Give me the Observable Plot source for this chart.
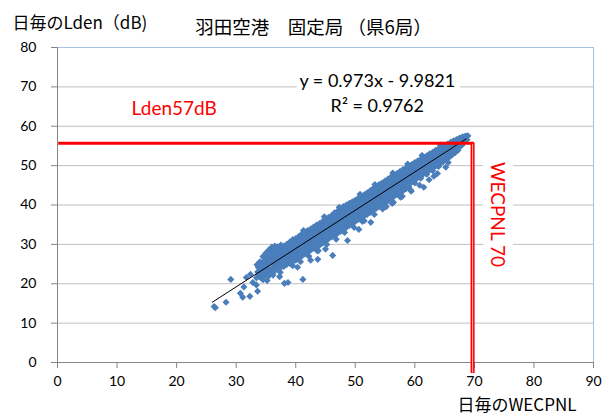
<!DOCTYPE html>
<html>
<head>
<meta charset="utf-8">
<script src="https://cdn.jsdelivr.net/npm/d3@7"></script>
<script src="https://cdn.jsdelivr.net/npm/@observablehq/plot@0.6"></script>
<style>
  html, body { margin: 0; padding: 0; background: #ffffff; }
</style>
</head>
<body>
<div id="chart"></div>
<script>
// ---- Data ----
const titleText = "羽田空港　固定局 （県6局）";
const yTitle = "日毎のLden（dB)";
const xTitle = "日毎のWECPNL";
const xTicks = [0, 10, 20, 30, 40, 50, 60, 70, 80, 90];
const yTicks = [0, 10, 20, 30, 40, 50, 60, 70, 80];

// regression shown on the chart
const slope = 0.973;
const intercept = -9.9821;
const trendRange = [26.0, 68.6];

// reference lines
const refLden = 55.7;      // "Lden57dB" horizontal line
const refWecpnl = 69.7;    // "WECPNL 70" vertical line

// daily points [WECPNL, Lden] – dense band
const bandPoints = [
  [33.5,24.8],[33.6,23.0],[33.4,21.5],
  [34.0,25.6],[34.1,23.4],[33.9,21.8],
  [34.5,26.9],[34.6,24.9],[34.4,22.9],[34.5,21.0],
  [35.0,27.8],[35.1,26.0],[34.9,24.2],[35.0,22.3],
  [35.5,28.6],[35.6,26.4],[35.4,24.0],[35.5,22.0],
  [36.0,29.3],[36.1,27.2],[35.9,25.3],[36.0,23.0],
  [36.5,29.6],[36.6,27.6],[36.4,25.4],[36.5,23.3],
  [37.0,29.4],[37.1,27.9],[36.9,26.0],[37.0,24.0],
  [37.5,29.8],[37.6,28.0],[37.4,26.3],[37.5,24.2],
  [38.0,29.6],[38.1,27.8],[37.9,25.6],[38.0,24.4],
  [38.5,30.0],[38.6,28.2],[38.4,26.3],[38.5,24.9],
  [39.0,30.6],[39.1,28.6],[38.9,26.6],[39.0,25.3],
  [39.5,31.2],[39.6,29.2],[39.4,27.1],[39.5,25.6],
  [40.0,31.5],[40.1,29.8],[39.9,27.6],[40.0,26.0],
  [40.5,32.0],[40.6,30.1],[40.4,28.2],[40.5,26.6],
  [41.0,32.6],[41.1,30.6],[40.9,28.7],[41.0,27.0],
  [41.5,33.2],[41.6,31.1],[41.4,29.0],[41.5,27.6],
  [42.0,33.5],[42.1,31.5],[41.9,29.5],[42.0,28.0],
  [42.5,33.9],[42.6,32.0],[42.4,30.1],[42.5,28.5],
  [43.0,34.4],[43.1,32.4],[42.9,30.5],[43.0,29.0],
  [43.5,34.9],[43.6,33.0],[43.4,31.0],[43.5,29.4],
  [44.0,35.3],[44.1,33.4],[43.9,31.4],[44.0,29.8],
  [44.5,35.8],[44.6,33.9],[44.4,31.9],[44.5,30.3],
  [45.0,36.4],[45.1,34.4],[44.9,32.4],[45.0,30.8],
  [45.5,36.8],[45.6,34.8],[45.4,32.9],[45.5,31.4],
  [46.0,37.3],[46.1,35.4],[45.9,33.4],[46.0,31.9],
  [46.5,38.0],[46.6,35.9],[46.4,33.8],[46.5,32.3],
  [47.0,38.4],[47.1,36.3],[46.9,34.3],[47.0,32.8],
  [47.5,38.9],[47.6,36.8],[47.4,34.8],[47.5,33.3],
  [48.0,39.6],[48.1,37.4],[47.9,35.3],[48.0,33.8],
  [48.5,40.0],[48.6,37.8],[48.4,35.8],[48.5,34.3],
  [49.0,40.4],[49.1,38.4],[48.9,36.3],[49.0,34.8],
  [49.5,40.8],[49.6,38.8],[49.4,36.8],[49.5,35.3],
  [50.0,41.2],[50.1,39.3],[49.9,37.3],[50.0,35.8],
  [50.5,41.7],[50.6,39.8],[50.4,37.8],[50.5,36.3],
  [51.0,42.1],[51.1,40.2],[50.9,38.2],[51.0,36.7],
  [51.5,42.6],[51.6,40.7],[51.4,38.7],[51.5,37.2],
  [52.0,43.1],[52.1,41.2],[51.9,39.2],[52.0,37.6],
  [52.5,43.6],[52.6,41.7],[52.4,39.7],[52.5,38.1],
  [53.0,44.2],[53.1,42.2],[52.9,40.2],[53.0,38.6],
  [53.5,44.7],[53.6,42.7],[53.4,40.7],[53.5,39.1],
  [54.0,45.2],[54.1,43.2],[53.9,41.2],[54.0,39.6],
  [54.5,45.6],[54.6,43.6],[54.4,41.6],[54.5,40.1],
  [55.0,46.1],[55.1,44.1],[54.9,42.1],[55.0,40.6],
  [55.5,46.6],[55.6,44.6],[55.4,42.6],[55.5,41.1],
  [56.0,47.1],[56.1,45.1],[55.9,43.1],[56.0,41.6],
  [56.5,47.5],[56.6,45.6],[56.4,43.6],[56.5,42.2],
  [57.0,48.0],[57.1,46.1],[56.9,44.1],[57.0,42.7],
  [57.5,48.5],[57.6,46.6],[57.4,44.6],[57.5,43.1],
  [58.0,49.0],[58.1,47.0],[57.9,45.1],[58.0,43.6],
  [58.5,49.4],[58.6,47.5],[58.4,45.5],[58.5,44.1],
  [59.0,49.8],[59.1,48.0],[58.9,46.0],[59.0,44.6],
  [59.5,50.3],[59.6,48.4],[59.4,46.5],
  [60.0,50.8],[60.1,48.9],[59.9,47.0],[60.0,45.6],
  [60.5,51.2],[60.6,49.4],[60.4,47.5],
  [61.0,51.6],[61.1,49.9],[60.9,48.0],[61.0,46.8],
  [61.5,52.1],[61.6,50.3],[61.4,48.5],
  [62.0,52.5],[62.1,50.7],[61.9,49.0],[62.0,47.8],
  [62.5,53.0],[62.6,51.2],[62.4,49.4],
  [63.0,53.4],[63.1,51.7],[62.9,49.9],[63.0,48.7],
  [63.5,53.9],[63.6,52.2],[63.4,50.4],
  [64.0,54.3],[64.1,52.6],[63.9,50.9],[64.0,49.8],
  [64.5,54.7],[64.6,53.1],[64.4,51.4],
  [65.0,55.1],[65.1,53.5],[64.9,51.9],
  [65.5,55.5],[65.6,54.0],[65.4,52.4],
  [66.0,55.9],[66.1,54.4],[65.9,52.9],
  [66.5,56.3],[66.6,54.9],[66.4,53.4],
  [67.0,56.6],[67.1,55.3],[66.9,54.0],
  [67.5,57.0],[67.6,55.8],[67.4,54.6],
  [68.0,57.3],[68.1,56.3],[67.9,55.2],
  [68.5,57.5],[68.6,56.6],
  [68.9,57.6]
];

// more daily points in the band, between the rows above
const bandPoints2 = [
  [33.75,24.1],[33.75,22.3],
  [34.25,24.6],[34.25,22.4],
  [34.75,25.9],[34.75,23.9],[34.75,22.0],
  [35.25,27.0],[35.25,25.1],[35.25,23.1],
  [35.75,28.0],[35.75,25.8],[35.75,23.5],
  [36.25,28.4],[36.25,26.3],[36.25,24.2],
  [36.75,28.6],[36.75,26.7],[36.75,24.6],
  [37.25,28.9],[37.25,27.0],[37.25,25.1],
  [37.75,28.9],[37.75,27.1],[37.75,25.2],
  [38.25,28.9],[38.25,27.0],[38.25,25.4],
  [38.75,29.3],[38.75,27.4],[38.75,25.7],
  [39.25,29.9],[39.25,27.8],[39.25,26.1],
  [39.75,30.3],[39.75,28.3],[39.75,26.5],
  [40.25,30.8],[40.25,28.8],[40.25,27.0],
  [40.75,31.3],[40.75,29.3],[40.75,27.5],
  [41.25,31.7],[41.25,29.7],[41.25,27.9],
  [41.75,32.2],[41.75,30.2],[41.75,28.4],
  [42.25,32.7],[42.25,30.7],[42.25,28.9],
  [42.75,33.2],[42.75,31.2],[42.75,29.4],
  [43.25,33.7],[43.25,31.7],[43.25,29.9],
  [43.75,34.2],[43.75,32.2],[43.75,30.4],
  [44.25,34.7],[44.25,32.7],[44.25,30.9],
  [44.75,35.2],[44.75,33.2],[44.75,31.4],
  [45.25,35.6],[45.25,33.6],[45.25,31.8],
  [45.75,36.1],[45.75,34.1],[45.75,32.3],
  [46.25,36.6],[46.25,34.6],[46.25,32.8],
  [46.75,37.1],[46.75,35.1],[46.75,33.3],
  [47.25,37.6],[47.25,35.6],[47.25,33.8],
  [47.75,38.1],[47.75,36.1],[47.75,34.3],
  [48.25,38.6],[48.25,36.6],[48.25,34.8],
  [48.75,39.1],[48.75,37.1],[48.75,35.3],
  [49.25,39.5],[49.25,37.5],[49.25,35.7],
  [49.75,40.0],[49.75,38.0],[49.75,36.2],
  [50.25,40.5],[50.25,38.5],[50.25,36.7],
  [50.75,41.0],[50.75,39.0],[50.75,37.2],
  [51.25,41.5],[51.25,39.5],[51.25,37.7],
  [51.75,42.0],[51.75,40.0],[51.75,38.2],
  [52.25,42.5],[52.25,40.5],[52.25,38.7],
  [52.75,42.9],[52.75,40.9],[52.75,39.1],
  [53.25,43.4],[53.25,41.4],[53.25,39.6],
  [53.75,43.9],[53.75,41.9],[53.75,40.1],
  [54.25,44.4],[54.25,42.4],[54.25,40.6],
  [54.75,44.9],[54.75,42.9],[54.75,41.1],
  [55.25,45.4],[55.25,43.4],[55.25,41.6],
  [55.75,45.9],[55.75,43.9],[55.75,42.1],
  [56.25,46.3],[56.25,44.3],[56.25,42.5],
  [56.75,46.8],[56.75,44.8],[56.75,43.0],
  [57.25,47.3],[57.25,45.3],[57.25,43.5],
  [57.75,47.8],[57.75,45.8],[57.75,44.0],
  [58.25,48.3],[58.25,46.3],[58.25,44.5],
  [58.75,48.8],[58.75,46.8],[58.75,45.0],
  [59.25,49.3],[59.25,47.3],[59.25,45.5],
  [59.75,49.8],[59.75,47.8],[59.75,46.0],
  [60.25,50.1],[60.25,48.1],[60.25,46.6],
  [60.75,50.6],[60.75,48.6],[60.75,47.1],
  [61.25,51.1],[61.25,49.1],[61.25,47.6],
  [61.75,51.6],[61.75,49.6],[61.75,48.1],
  [62.25,52.1],[62.25,50.1],[62.25,48.6],
  [62.75,52.6],[62.75,50.6],[62.75,49.1],
  [63.25,53.1],[63.25,51.1],[63.25,49.6],
  [63.75,53.5],[63.75,51.5],[63.75,50.0],
  [64.25,54.0],[64.25,52.0],[64.25,50.5],
  [64.75,54.5],[64.75,52.5],[64.75,51.0],
  [65.25,54.9],[65.25,53.0],[65.25,51.6],
  [65.75,55.4],[65.75,53.5],[65.75,52.1],
  [66.25,55.8],[66.25,54.0],[66.25,52.7],
  [66.75,56.2],[66.75,54.5],[66.75,53.3],
  [67.25,56.5],[67.25,55.0],[67.25,53.9],
  [67.75,56.9],[67.75,55.5],
  [68.25,57.2],[68.25,56.0],
  [68.75,57.4],[68.75,56.6]
];

// ragged edges of the band
const lowerEdgePoints = [
  [39.5,24.6],[40.8,25.6],[42.2,27.0],[43.8,28.4],[45.2,30.0],[46.8,31.3],
  [48.2,33.0],[49.8,34.3],[51.2,35.8],[53.2,37.6],[54.6,39.0],[56.2,40.4],
  [57.6,42.0],[59.4,43.5],[60.8,45.0],[62.4,46.4],[63.8,48.0],[65.2,49.6]
];
const upperEdgePoints = [
  [41.3,33.5],[44.8,37.0],[47.3,39.4],[50.8,42.7],[53.3,45.2],[56.3,48.1],
  [58.8,50.4],[61.2,52.6],[64.3,55.2]
];

// scattered points away from the band
const outlierPoints = [
  [26.3,14.2],[26.5,13.9],[28.3,15.3],[29.1,21.1],[30.7,17.6],[31.1,16.6],
  [32.3,16.8],[33.6,18.1],[31.7,21.6],[32.8,20.3],[31.3,19.2],[32.4,22.4],
  [33.4,19.7],[38.7,20.3],[38.1,20.1],[41.2,21.1],[46.2,27.2],[43.7,26.2],
  [48.7,31.0],[52.6,35.6],[61.5,44.5],[59.3,43.8],[56.4,40.7],[54.8,40.3],
  [51.5,36.0],[36.2,22.2],[37.3,21.8],[35.2,20.8],[40.3,24.2],[42.5,26.0],
  [45.0,28.8],[50.6,33.8],[55.2,39.6],[57.9,42.2],[63.2,47.3],[65.6,50.8],
  [37.4,22.9],[39.1,25.1],[43.6,28.4],[34.1,21.6]
];

const eqText = "y = 0.973x - 9.9821";
const r2Text = "R² = 0.9762";
const ldenLabel = "Lden57dB";
const wecpnlLabel = "WECPNL 70";

// ---- Chart ----
const latin = "Lato, 'Open Sans', 'Noto Sans CJK JP', sans-serif";
const cjk = "'Noto Sans CJK JP', 'Noto Sans', sans-serif";
const gridColor = "#c0c0c0";
const axisColor = "#868686";
const borderColor = "#a9c1e0";
const dotColor = "#4a7ebb";

const allPoints = bandPoints.concat(bandPoints2, lowerEdgePoints, upperEdgePoints, outlierPoints);

const chart = Plot.plot({
  width: 610,
  height: 419,
  marginLeft: 57,
  marginRight: 17,
  marginTop: 47,
  marginBottom: 57,
  style: {fontFamily: latin, fontSize: "14px", color: "#000", background: "#fff", overflow: "visible"},
  x: {domain: [0, 90]},
  y: {domain: [0, 80]},
  marks: [
    Plot.gridY(yTicks.filter(v => v > 0 && v < 80), {stroke: gridColor, strokeOpacity: 1}),
    Plot.ruleY([80], {stroke: borderColor}),
    Plot.ruleX([90], {stroke: borderColor}),
    Plot.ruleX([0], {stroke: axisColor}),
    Plot.ruleY([0], {stroke: axisColor}),
    Plot.axisX(xTicks, {tickSize: 6, tickPadding: 8, stroke: axisColor, fill: "#000", label: null, fontSize: 14}),
    Plot.axisY(yTicks, {tickSize: 6, tickPadding: 15, stroke: axisColor, fill: "#000", label: null, fontSize: 14}),
    Plot.dot(allPoints, {x: d => d[0], y: d => d[1], symbol: "diamond2", r: 3.2, fill: dotColor, stroke: "none"}),
    Plot.line(trendRange, {x: d => d, y: d => slope * d + intercept, stroke: "#000", strokeWidth: 1}),
    Plot.ruleY([refLden], {x1: 0.2, x2: 70.0, stroke: "#ff0000", strokeWidth: 3}),
    Plot.ruleX([refWecpnl], {y1: refLden, y2: -2.8, stroke: "#ff0000", strokeWidth: 4}),
    Plot.ruleX([refWecpnl], {y1: refLden - 0.3, y2: -2.7, stroke: "#ffb3b3", strokeWidth: 1}),
    // annotations
    Plot.text([eqText], {x: 53.7, y: 71.4, fontSize: 18, fill: "#000", stroke: "#fff", strokeWidth: 12, fontFamily: latin}),
    Plot.text([r2Text], {x: 53.7, y: 65.0, fontSize: 18, fill: "#000", fontFamily: latin}),
    Plot.text([ldenLabel], {x: 19.6, y: 64.5, fontSize: 19, fill: "#ff0000", fontFamily: latin}),
    Plot.text([wecpnlLabel], {x: 73.8, y: 37.6, rotate: 90, fontSize: 19, fill: "#ff0000", stroke: "#fff", strokeWidth: 16, fontFamily: latin}),
    // titles
    Plot.text([titleText], {frameAnchor: "top", dx: -12, dy: -27, fontSize: 18.5, fontFamily: cjk, fill: "#000"}),
    Plot.text([yTitle], {frameAnchor: "top-left", dx: -45, dy: -31, textAnchor: "start", fontSize: 17, fontFamily: cjk, fill: "#000"}),
    Plot.text([xTitle], {frameAnchor: "bottom-right", dx: -17, dy: 48, textAnchor: "end", fontSize: 17, fontFamily: cjk, fill: "#000"})
  ]
});
document.getElementById("chart").appendChild(chart);
</script>
</body>
</html>
